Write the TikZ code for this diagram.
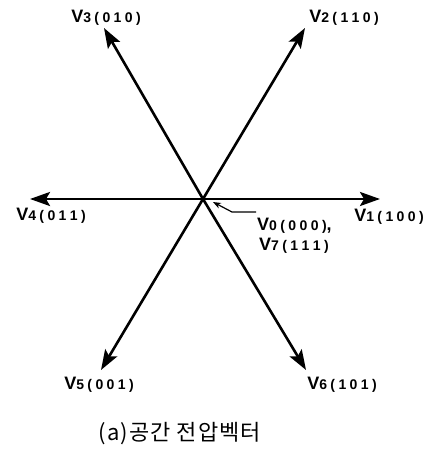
\documentclass[tikz,border=0pt]{standalone}
\usepackage{fontspec}
\setmainfont{Liberation Sans}
\newfontfamily\korfont[LetterSpace=5]{Noto Sans CJK KR}
\usetikzlibrary{arrows.meta,positioning}
\newcommand{\dsp}{\kern3.4pt}
\newcommand{\VL}[4]{\bfseries\fontsize{18}{19}\selectfont V{\fontsize{14}{15}\selectfont#1\dsp(\dsp#2\dsp#3\dsp#4\dsp)}}

\begin{document}
\begin{tikzpicture}[x=1pt,y=-1pt,
  vec/.style={line width=2.6pt,-{Stealth[length=20pt,width=14pt,inset=4pt]}},
  vlabel/.style={inner sep=0pt}]
\useasboundingbox (0,0) rectangle (430,449);
\coordinate (O) at (203,199);
\coordinate (T1) at (380,199);
\coordinate (T2) at (305,28);
\coordinate (T3) at (104,28);
\coordinate (T4) at (30,199);
\coordinate (T5) at (101,370);
\coordinate (T6) at (306,370);
% space vectors
\draw[vec] (O) -- (T1);
\draw[vec] (O) -- (T2);
\draw[vec] (O) -- (T3);
\draw[vec] (O) -- (T4);
\draw[vec] (O) -- (T5);
\draw[vec] (O) -- (T6);
% labels
\node[vlabel] (L1) at (389,217) {\VL{1}{1}{0}{0}};
\node[vlabel] (L2) at (344,18) {\VL{2}{1}{1}{0}};
\node[vlabel] (L3) at (106,18) {\VL{3}{0}{1}{0}};
\node[vlabel] (L4) at (51,216) {\VL{4}{0}{1}{1}};
\node[vlabel] (L5) at (99,385) {\VL{5}{0}{0}{1}};
\node[vlabel] (L6) at (342,385) {\VL{6}{1}{0}{1}};
\node[vlabel,anchor=west] (L0) at (257,226) {\VL{0}{0}{0}{0},};
\node[vlabel,anchor=west] (L7) at (259,246) {\VL{7}{1}{1}{1}};
% zero vectors leader
\coordinate (E) at (256,212);
\coordinate (K) at (232,212);
\coordinate (P) at (213,202);
\draw[line width=1.2pt,-{Stealth[length=8pt,width=6pt]}] (E) -- (K) -- (P);
\node[font=\korfont\fontsize{22}{23}\selectfont] (cap) at (180,434) {(a)공간 전압벡터};
\end{tikzpicture}
\end{document}
